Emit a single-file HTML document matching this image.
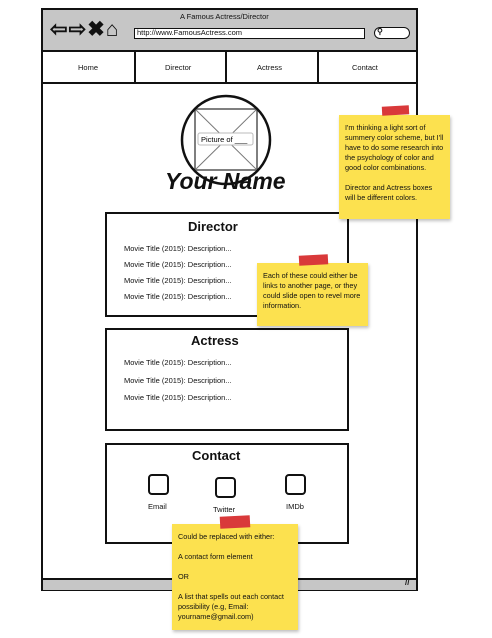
<!DOCTYPE html>
<html><head><style>
body{margin:0;width:492px;height:638px;background:#fff;position:relative;overflow:hidden;font-family:"Liberation Sans",sans-serif;color:#111}
.a{position:absolute;box-sizing:border-box}
.t{position:absolute;font-size:7.5px;white-space:nowrap}
.box{position:absolute;border:2px solid #111;background:#fff;box-sizing:border-box}
.note{position:absolute;background:#fce14f;box-shadow:1px 2px 3px rgba(0,0,0,.25);font-size:7.3px;line-height:10px;padding:8px 6px;box-sizing:border-box}
.tape{position:absolute;background:#d9393a;transform:rotate(-3deg)}
.cb{position:absolute;width:21px;height:21px;border:2px solid #111;border-radius:4px;box-sizing:border-box}
</style></head><body>
<div class="box" style="left:41px;top:8px;width:377px;height:583px;"></div>
<div class="a" style="left:43px;top:10px;width:373px;height:40px;background:#c6c6c6"></div>
<div class="t" style="left:180px;top:12px;font-size:7.5px">A Famous Actress/Director</div>
<div class="t" style="left:50px;top:17px;font-size:21px;font-weight:bold;letter-spacing:1px">⇦⇨✖⌂</div>
<div class="a" style="left:134px;top:28px;width:231px;height:11px;background:#fff;border:1.5px solid #111"></div>
<div class="t" style="left:137px;top:28px;font-size:7.5px">http://www.FamousActress.com</div>
<div class="a" style="left:374px;top:27px;width:36px;height:12px;background:#fff;border:1.5px solid #111;border-radius:7px"></div>
<div class="t" style="left:377px;top:27px;font-size:8px;font-weight:bold">⚲</div>
<div class="a" style="left:43px;top:50px;width:373px;height:34px;border-top:2px solid #111;border-bottom:2px solid #111"></div>
<div class="a" style="left:134px;top:50px;width:2px;height:34px;background:#111"></div>
<div class="a" style="left:225px;top:50px;width:2px;height:34px;background:#111"></div>
<div class="a" style="left:317px;top:50px;width:2px;height:34px;background:#111"></div>
<div class="t" style="left:78px;top:63px">Home</div>
<div class="t" style="left:165px;top:63px">Director</div>
<div class="t" style="left:257px;top:63px">Actress</div>
<div class="t" style="left:352px;top:63px">Contact</div>
<div class="a" style="left:43px;top:578px;width:373px;height:12px;background:#c6c6c6;border-top:2px solid #111"></div>
<div class="t" style="left:405px;top:578px;font-size:8px;font-weight:bold">//</div>
<svg class="a" style="left:0;top:0" width="492" height="638">
<rect x="195" y="109" width="62" height="61" fill="none" stroke="#555" stroke-width="1.5"/>
<line x1="195" y1="109" x2="257" y2="170" stroke="#777"/><line x1="257" y1="109" x2="195" y2="170" stroke="#777"/>
<circle cx="226" cy="140" r="44" fill="none" stroke="#111" stroke-width="2.5"/>
<rect x="198" y="133" width="55" height="12" rx="2" fill="#fff" stroke="#bbb"/>
<text x="201" y="142" font-size="7.5" font-family="Liberation Sans">Picture of ___</text>
</svg>
<div class="t" style="left:165px;top:168px;font-size:23px;font-weight:bold;font-style:italic">Your Name</div>
<div class="box" style="left:105px;top:212px;width:244px;height:105px"></div>
<div class="t" style="left:188px;top:219px;font-size:13px;font-weight:bold">Director</div>
<div class="t" style="left:124px;top:244px">Movie Title (2015): Description...</div>
<div class="t" style="left:124px;top:260px">Movie Title (2015): Description...</div>
<div class="t" style="left:124px;top:276px">Movie Title (2015): Description...</div>
<div class="t" style="left:124px;top:292px">Movie Title (2015): Description...</div>
<div class="box" style="left:105px;top:328px;width:244px;height:103px"></div>
<div class="t" style="left:191px;top:333px;font-size:13px;font-weight:bold">Actress</div>
<div class="t" style="left:124px;top:358px">Movie Title (2015): Description...</div>
<div class="t" style="left:124px;top:376px">Movie Title (2015): Description...</div>
<div class="t" style="left:124px;top:393px">Movie Title (2015): Description...</div>
<div class="box" style="left:105px;top:443px;width:244px;height:101px"></div>
<div class="t" style="left:192px;top:448px;font-size:13px;font-weight:bold">Contact</div>
<div class="cb" style="left:148px;top:474px"></div>
<div class="cb" style="left:215px;top:477px"></div>
<div class="cb" style="left:285px;top:474px"></div>
<div class="t" style="left:148px;top:502px">Email</div>
<div class="t" style="left:213px;top:505px">Twitter</div>
<div class="t" style="left:286px;top:502px">IMDb</div>
<div class="note" style="left:339px;top:115px;width:111px;height:104px">I'm thinking a light sort of summery color scheme, but I'll have to do some research into the psychology of color and good color combinations.<br><br>Director and Actress boxes will be different colors.</div>
<div class="tape" style="left:382px;top:106px;width:27px;height:9px"></div>
<div class="note" style="left:257px;top:263px;width:111px;height:63px">Each of these could either be links to another page, or they could slide open to revel more information.</div>
<div class="tape" style="left:299px;top:255px;width:29px;height:10px"></div>
<div class="note" style="left:172px;top:524px;width:126px;height:106px">Could be replaced with either:<br><br>A contact form element<br><br>OR<br><br>A list that spells out each contact possibility (e.g, Email: yourname@gmail.com)</div>
<div class="tape" style="left:220px;top:516px;width:30px;height:12px"></div>
</body></html>
